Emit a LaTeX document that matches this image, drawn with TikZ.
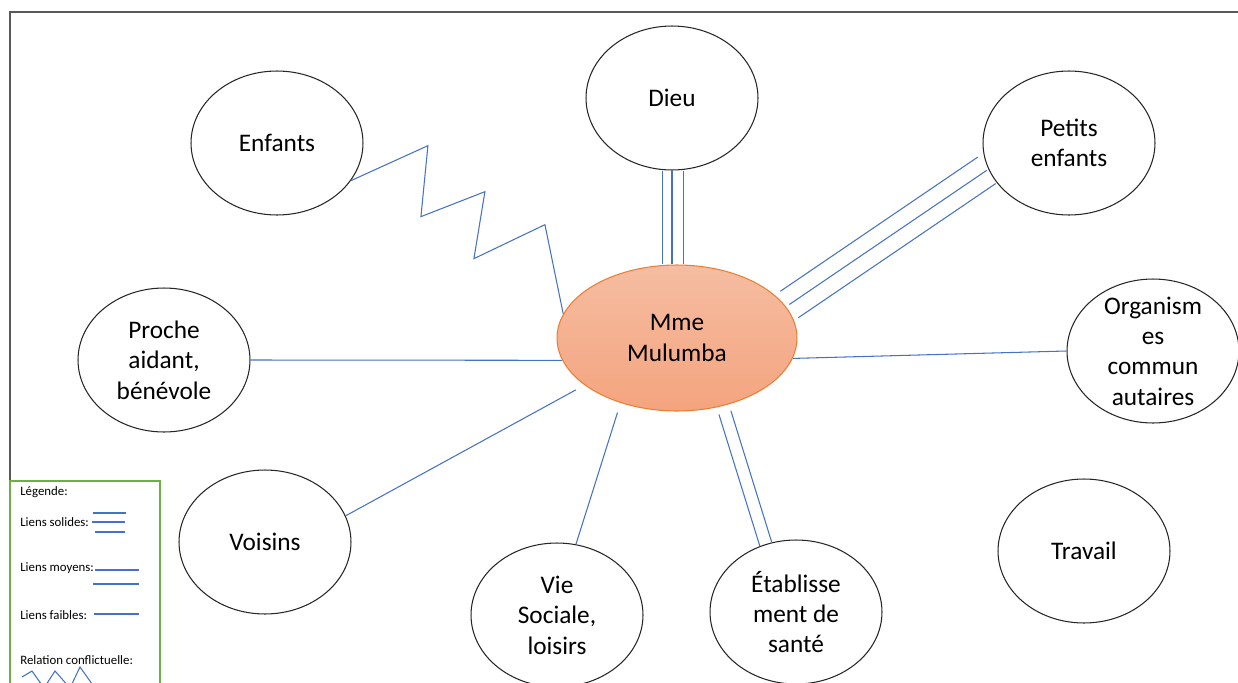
\documentclass[tikz,border=0pt]{standalone}
\usepackage{fontspec}
\setmainfont{Carlito}
\usetikzlibrary{shapes.geometric,calc}
\definecolor{linkblue}{HTML}{4472C4}
\definecolor{mmetop}{HTML}{F5BDA2}
\definecolor{mmebottom}{HTML}{F4A47E}
\definecolor{mmeline}{HTML}{ED7D31}
\definecolor{legendgreen}{HTML}{70AD47}
\begin{document}
\begin{tikzpicture}[x=0.02cm, y=-0.02cm,
    person/.style={ellipse, draw=black!85, line width=0.6pt,
        minimum width=3.44cm, minimum height=2.88cm, inner sep=-0.6cm,
        align=center, font=\fontsize{14.4}{17.3}\selectfont},
    link/.style={linkblue, line width=0.6pt},
    legendtext/.style={anchor=west, inner sep=0pt, font=\fontsize{7.3}{8.5}\selectfont}]
    \useasboundingbox (0,0) rectangle (1238,683);
    \clip (0,0) rectangle (1238,683);

    % Frame
    \draw[black!65, line width=0.9pt] (10,12) rectangle (1260,700);

    % Nodes
    \node[person] (dieu) at (672,98) {Dieu};
    \node[person] (enfants) at (277,143) {Enfants};
    \node[person] (petits) at (1069,143) {Petits\\enfants};
    \node[person] (proche) at (164,360) {Proche\\aidant,\\bénévole};
    \node[person] (org) at (1153,351) {Organism\\es\\commun\\autaires};
    \node[person] (voisins) at (265,542) {Voisins};
    \node[person] (vie) at (557,615) {Vie\\Sociale,\\loisirs};
    \node[person] (etab) at (796,612) {Établisse\\ment de\\santé};
    \node[person] (travail) at (1084,551) {Travail};
    \node[person, draw=mmeline, top color=mmetop, bottom color=mmebottom,
        minimum width=4.8cm, minimum height=2.92cm] (mme) at (677,338) {Mme\\Mulumba};

    % Liens solides
    \foreach \d in {-0.19cm,0cm,0.23cm}
        \draw[link] ([xshift=\d]dieu.south) -- ([xshift=\d]dieu.south |- mme.north);
    \foreach \d in {-0.32cm,0cm,0.32cm}
        \draw[link, shorten <=0.08cm, shorten >=0.04cm]
            ($(mme.16)!\d!90:(petits.198)$) -- ($(petits.198)!\d!-90:(mme.16)$);

    % Liens moyens
    \foreach \d in {-0.125cm,0.125cm}
        \draw[link, shorten <=0.14cm]
            ($(mme.-56)!\d!90:(etab.114)$) -- ($(etab.114)!\d!-90:(mme.-56)$);

    % Liens faibles
    \draw[link] (proche.east) -- (mme.191);
    \draw[link] (mme.-10) -- (org.west);
    \draw[link, shorten >=0.2cm] (voisins.18) -- (mme.207);
    \draw[link, shorten >=0.2cm] (vie.75) -- (mme.229);

    % Relation conflictuelle
    \draw[link] (enfants.-27) -- ++(77,-35) -- ++(-7,71) -- ++(64,-25)
        -- ++(-11,67) -- ++(71,-34) -- (mme.168);

    % Legend
    \draw[legendgreen, line width=0.8pt, fill=white] (10,481) rectangle (160,700);
    \node[legendtext] (legende) at (20,492) {Légende:};
    \node[legendtext] (solides) at (20,522) {Liens solides:};
    \node[legendtext] (moyens) at (20,568) {Liens moyens:};
    \node[legendtext] (faibles) at (20,615) {Liens faibles:};
    \node[legendtext] (conflit) at (20,660) {Relation conflictuelle:};
    \foreach \y/\a/\b in {513/93/126, 522/92/125, 532/95/125}
        \draw[link] (\a,\y) -- (\b,\y);
    \draw[link] (95,570) -- (139,570);
    \draw[link] (93,584) -- (139,584);
    \draw[link] (94,614) -- (139,614);
    \draw[link] (22,677) -- (32,671) -- (44,688) -- (55,671) -- (70,688)
        -- (80,667) -- (95,688);

\end{tikzpicture}
\end{document}
